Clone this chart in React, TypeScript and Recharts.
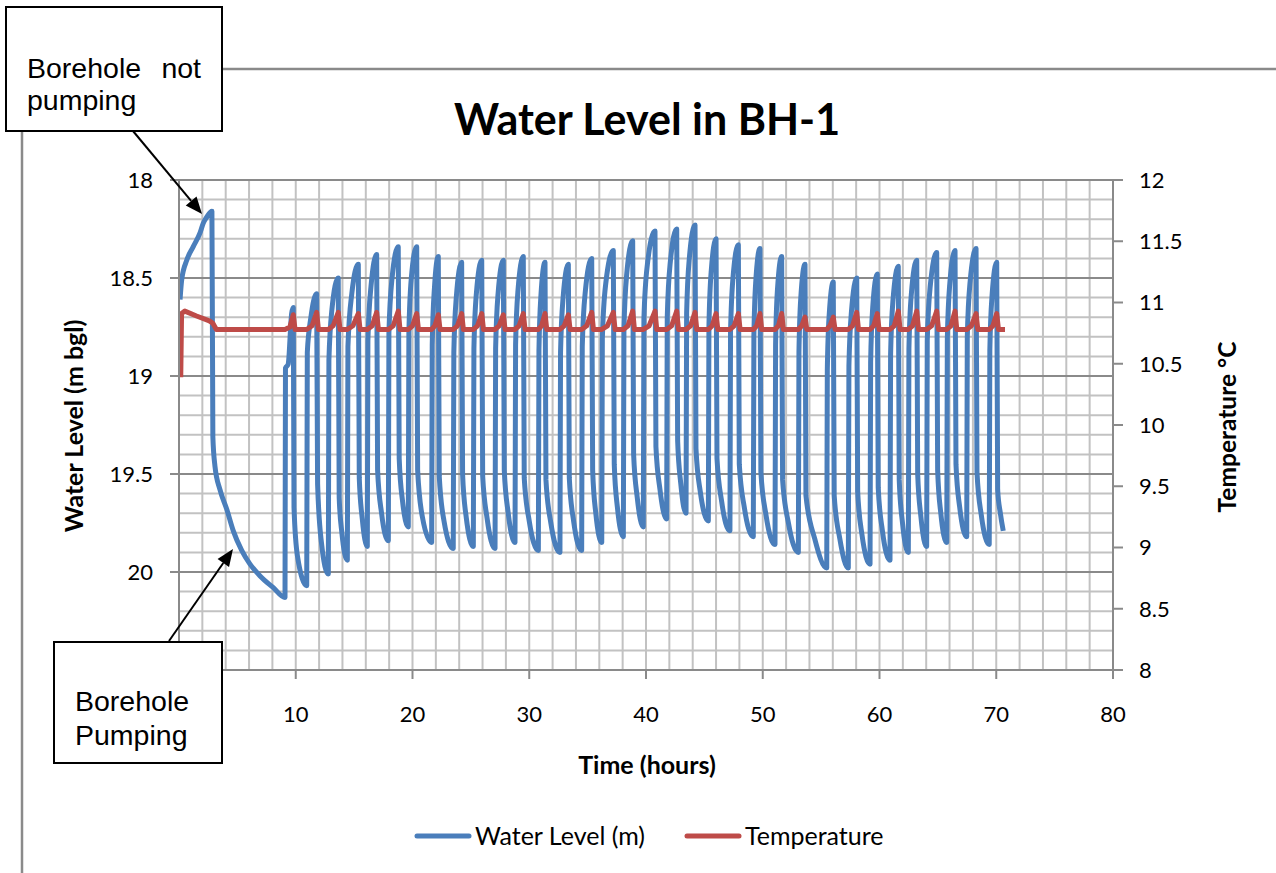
import { LineChart, Line, XAxis, YAxis, CartesianGrid } from 'recharts';

const BLUE = '#4a7ebb';
const RED = '#be4b48';
const MAJOR = '#8a8a8a';
const MINOR = '#c2c2c2';

const timeTicks = [0, 10, 20, 30, 40, 50, 60, 70, 80];
const levelTicks = [18, 18.5, 19, 19.5, 20, 20.5];
const tempTicks = [8, 8.5, 9, 9.5, 10, 10.5, 11, 11.5, 12];
// tick labels hidden behind the "Borehole Pumping" call-out in the original
const coveredTimeLabels = [0];
const coveredLevelLabels = [20.5];
const levelMinorLines = [
  18.1, 18.2, 18.3, 18.4, 18.6, 18.7, 18.8, 18.9, 19.1, 19.2, 19.3, 19.4,
  19.6, 19.7, 19.8, 19.9, 20.1, 20.2, 20.3, 20.4,
];
const timeGridLines = [
  2, 4, 6, 8, 10, 12, 14, 16, 18, 20, 22, 24, 26, 28, 30, 32, 34, 36, 38, 40,
  42, 44, 46, 48, 50, 52, 54, 56, 58, 60, 62, 64, 66, 68, 70, 72, 74, 76, 78, 80,
];

// water level (m bgl) before the pump starts
const restingLevel: [number, number][] = [
  [0.09, 18.61], [0.23, 18.51], [0.66, 18.41], [1.22, 18.34], [1.8, 18.27],
  [2.08, 18.22], [2.37, 18.19], [2.82, 18.16],
];

// first long pumping drawdown
const drawdownLevel: [number, number][] = [
  [2.9, 19.31], [3.08, 19.46], [3.51, 19.58], [4.09, 19.68], [4.65, 19.79],
  [5.37, 19.89], [6.08, 19.96], [6.94, 20.02], [8.08, 20.08], [9.08, 20.13],
];

// on/off pumping cycles
const cyclingLevel: [number, number][] = [
  [9.12, 18.96], [9.35, 18.94], [9.65, 18.68], [9.79, 18.65], [9.85, 19.67], [10.15, 19.92], [10.94, 20.07],
  [10.99, 18.88], [11.3, 18.7], [11.79, 18.58], [11.87, 19.55], [12.2, 19.85], [12.79, 20.01],
  [12.84, 18.92], [13.1, 18.66], [13.64, 18.5], [13.72, 19.62], [13.95, 19.8], [14.42, 19.94],
  [14.47, 18.85], [14.8, 18.58], [15.36, 18.43], [15.44, 19.52], [15.7, 19.73], [16.13, 19.87],
  [16.18, 18.82], [16.45, 18.54], [16.93, 18.38], [17.01, 19.48], [17.35, 19.7], [17.93, 19.84],
  [17.98, 18.78], [18.25, 18.5], [18.78, 18.34], [18.86, 19.42], [19.15, 19.64], [19.64, 19.77],
  [19.69, 18.78], [19.9, 18.5], [20.36, 18.34], [20.44, 19.48], [20.85, 19.72], [21.64, 19.85],
  [21.69, 18.84], [21.88, 18.55], [22.21, 18.39], [22.29, 19.51], [22.7, 19.74], [23.49, 19.88],
  [23.54, 18.88], [23.75, 18.6], [24.21, 18.42], [24.29, 19.5], [24.6, 19.72], [25.21, 19.87],
  [25.26, 18.86], [25.47, 18.58], [25.93, 18.41], [26.01, 19.51], [26.4, 19.73], [27.07, 19.88],
  [27.12, 18.86], [27.33, 18.58], [27.78, 18.41], [27.86, 19.48], [28.2, 19.7], [28.78, 19.85],
  [28.83, 18.84], [29.04, 18.56], [29.49, 18.39], [29.57, 19.52], [30.0, 19.74], [30.78, 19.89],
  [30.83, 18.87], [31.0, 18.59], [31.35, 18.42], [31.43, 19.53], [31.85, 19.75], [32.63, 19.9],
  [32.68, 18.88], [32.9, 18.6], [33.35, 18.43], [33.43, 19.52], [33.8, 19.74], [34.49, 19.89],
  [34.54, 18.85], [34.8, 18.57], [35.35, 18.4], [35.43, 19.48], [35.7, 19.7], [36.21, 19.85],
  [36.26, 18.81], [36.55, 18.53], [37.2, 18.36], [37.28, 19.45], [37.55, 19.67], [38.06, 19.82],
  [38.11, 18.76], [38.35, 18.48], [38.86, 18.31], [38.94, 19.4], [39.25, 19.62], [39.77, 19.77],
  [39.82, 18.71], [40.12, 18.43], [40.77, 18.26], [40.85, 19.36], [41.2, 19.58], [41.77, 19.73],
  [41.82, 18.7], [42.08, 18.42], [42.63, 18.25], [42.71, 19.33], [42.98, 19.55], [43.43, 19.7],
  [43.48, 18.68], [43.71, 18.4], [44.2, 18.23], [44.28, 19.37], [44.65, 19.59], [45.34, 19.74],
  [45.39, 18.75], [45.58, 18.47], [46.0, 18.3], [46.08, 19.42], [46.48, 19.64], [47.19, 19.79],
  [47.24, 18.78], [47.45, 18.5], [47.91, 18.33], [47.99, 19.45], [48.42, 19.67], [49.19, 19.82],
  [49.24, 18.8], [49.4, 18.52], [49.76, 18.35], [49.84, 19.49], [50.28, 19.71], [51.05, 19.86],
  [51.1, 18.84], [51.26, 18.56], [51.62, 18.39], [51.7, 19.53], [52.2, 19.75], [53.05, 19.9],
  [53.1, 18.88], [53.26, 18.6], [53.62, 18.43], [53.7, 19.61], [54.45, 19.83], [55.48, 19.98],
  [55.53, 18.97], [55.69, 18.69], [56.04, 18.52], [56.12, 19.61], [56.6, 19.83], [57.33, 19.98],
  [57.38, 18.95], [57.6, 18.67], [58.05, 18.5], [58.13, 19.59], [58.5, 19.81], [59.19, 19.96],
  [59.24, 18.93], [59.42, 18.65], [59.81, 18.48], [59.89, 19.57], [60.25, 19.79], [60.9, 19.94],
  [60.95, 18.89], [61.16, 18.61], [61.61, 18.44], [61.69, 19.53], [61.97, 19.75], [62.47, 19.9],
  [62.52, 18.86], [62.73, 18.58], [63.19, 18.41], [63.27, 19.5], [63.55, 19.72], [64.04, 19.87],
  [64.09, 18.82], [64.35, 18.54], [64.9, 18.37], [64.98, 19.48], [65.25, 19.7], [65.76, 19.85],
  [65.81, 18.81], [66.02, 18.53], [66.47, 18.36], [66.55, 19.45], [66.87, 19.67], [67.47, 19.82],
  [67.52, 18.8], [67.76, 18.52], [68.27, 18.35], [68.35, 19.49], [68.72, 19.71], [69.4, 19.86],
  [69.45, 18.87], [69.64, 18.59], [70.04, 18.42], [70.12, 19.58], [70.35, 19.7], [70.6, 19.79],
];

// temperature (°C)
const startTemp: [number, number][] = [
  [0.15, 10.39], [0.22, 10.91], [0.5, 10.93], [1.5, 10.89], [2.6, 10.85], [2.9, 10.83], [3.2, 10.78],
];

const cyclingTemp: [number, number][] = [
  [9.08, 10.78], [9.5, 10.8], [9.79, 10.9], [9.94, 10.78],
  [10.94, 10.78], [11.4, 10.81], [11.79, 10.92], [11.94, 10.78],
  [12.79, 10.78], [13.2, 10.81], [13.64, 10.92], [13.79, 10.78],
  [14.42, 10.78], [14.9, 10.81], [15.36, 10.91], [15.51, 10.78],
  [16.13, 10.78], [16.55, 10.81], [16.93, 10.92], [17.08, 10.78],
  [17.93, 10.78], [18.35, 10.81], [18.78, 10.93], [18.93, 10.78],
  [19.64, 10.78], [20.0, 10.81], [20.36, 10.91], [20.51, 10.78],
  [21.64, 10.78], [21.92, 10.81], [22.21, 10.9], [22.36, 10.78],
  [23.49, 10.78], [23.85, 10.81], [24.21, 10.91], [24.36, 10.78],
  [25.21, 10.78], [25.57, 10.81], [25.93, 10.91], [26.08, 10.78],
  [27.07, 10.78], [27.42, 10.81], [27.78, 10.9], [27.93, 10.78],
  [28.78, 10.78], [29.13, 10.81], [29.49, 10.91], [29.64, 10.78],
  [30.78, 10.78], [31.06, 10.81], [31.35, 10.91], [31.5, 10.78],
  [32.63, 10.78], [32.99, 10.81], [33.35, 10.9], [33.5, 10.78],
  [34.49, 10.78], [34.92, 10.81], [35.35, 10.92], [35.5, 10.78],
  [36.21, 10.78], [36.7, 10.81], [37.2, 10.92], [37.35, 10.78],
  [38.06, 10.78], [38.46, 10.81], [38.86, 10.93], [39.01, 10.78],
  [39.77, 10.78], [40.27, 10.81], [40.77, 10.93], [40.92, 10.78],
  [41.77, 10.78], [42.2, 10.81], [42.63, 10.93], [42.78, 10.78],
  [43.43, 10.78], [43.82, 10.81], [44.2, 10.92], [44.35, 10.78],
  [45.34, 10.78], [45.67, 10.81], [46.0, 10.91], [46.15, 10.78],
  [47.19, 10.78], [47.55, 10.81], [47.91, 10.91], [48.06, 10.78],
  [49.19, 10.78], [49.48, 10.81], [49.76, 10.91], [49.91, 10.78],
  [51.05, 10.78], [51.34, 10.81], [51.62, 10.91], [51.77, 10.78],
  [53.05, 10.78], [53.34, 10.81], [53.62, 10.88], [53.77, 10.78],
  [55.48, 10.78], [55.76, 10.81], [56.04, 10.88], [56.19, 10.78],
  [57.33, 10.78], [57.69, 10.81], [58.05, 10.92], [58.2, 10.78],
  [59.19, 10.78], [59.5, 10.81], [59.81, 10.91], [59.96, 10.78],
  [60.9, 10.78], [61.26, 10.81], [61.61, 10.93], [61.76, 10.78],
  [62.47, 10.78], [62.83, 10.81], [63.19, 10.93], [63.34, 10.78],
  [64.04, 10.78], [64.47, 10.81], [64.9, 10.93], [65.05, 10.78],
  [65.76, 10.78], [66.12, 10.81], [66.47, 10.93], [66.62, 10.78],
  [67.47, 10.78], [67.87, 10.81], [68.27, 10.91], [68.42, 10.78],
  [69.4, 10.78], [69.72, 10.81], [70.04, 10.91], [70.19, 10.78],
  [70.75, 10.78],
];

const toRows = (pts: [number, number][]) => pts.map(([t, v]) => ({ t, v }));
const levelData = toRows([...restingLevel, ...drawdownLevel, ...cyclingLevel]);
const tempData = toRows([...startTemp, ...cyclingTemp]);

const tickStyle = { fontFamily: 'Lato', fontSize: 22, fill: '#000' };
const labelFont = 'Lato, sans-serif';
const boxFont = '"Liberation Sans", Arial, sans-serif';

function Arrow({ x1, y1, x2, y2 }: { x1: number; y1: number; x2: number; y2: number }) {
  const a = Math.atan2(y2 - y1, x2 - x1);
  const len = 17;
  const w = 7;
  const bx = x2 - len * Math.cos(a);
  const by = y2 - len * Math.sin(a);
  const px = -Math.sin(a) * w;
  const py = Math.cos(a) * w;
  return (
    <g>
      <line x1={x1} y1={y1} x2={bx} y2={by} stroke="#000" strokeWidth={2} />
      <polygon points={`${x2},${y2} ${bx + px},${by + py} ${bx - px},${by - py}`} fill="#000" />
    </g>
  );
}

export default function App() {
  return (
    <div style={{ position: 'fixed', left: 0, top: 0, width: 1276, height: 873, overflow: 'hidden', background: '#fff' }}>
      <div style={{ position: 'absolute', left: 0, top: 0 }}>
        <LineChart width={1276} height={873} margin={{ top: 180, right: 103, bottom: 173, left: 119 }}>
          <CartesianGrid
            yAxisId="level"
            stroke={MINOR}
            strokeWidth={2}
            horizontalValues={levelMinorLines}
            verticalValues={timeGridLines}
          />
          <CartesianGrid yAxisId="level" stroke={MAJOR} strokeWidth={2} vertical={false} horizontalValues={levelTicks} />
          <XAxis
            type="number"
            dataKey="t"
            domain={[0, 80]}
            ticks={timeTicks}
            tickFormatter={(v: number) => (coveredTimeLabels.includes(v) ? '' : String(v))}
            interval={0}
            allowDataOverflow
            height={30}
            tickSize={9}
            tickMargin={27}
            stroke={MAJOR}
            strokeWidth={2}
            tick={tickStyle}
          />
          <YAxis
            yAxisId="level"
            type="number"
            reversed
            domain={[18, 20.5]}
            ticks={levelTicks}
            tickFormatter={(v: number) => (coveredLevelLabels.includes(v) ? '' : String(v))}
            interval={0}
            allowDataOverflow
            width={60}
            tickSize={9}
            tickMargin={17}
            stroke={MAJOR}
            strokeWidth={2}
            tick={tickStyle}
          />
          <YAxis
            yAxisId="temp"
            orientation="right"
            type="number"
            domain={[8, 12]}
            ticks={tempTicks}
            interval={0}
            allowDataOverflow
            width={60}
            tickSize={10}
            tickMargin={16}
            stroke={MAJOR}
            strokeWidth={2}
            tick={tickStyle}
          />
          <Line
            data={levelData}
            yAxisId="level"
            dataKey="v"
            type="monotone"
            stroke={BLUE}
            strokeWidth={5}
            strokeLinejoin="round"
            dot={false}
            isAnimationActive={false}
          />
          <Line
            data={tempData}
            yAxisId="temp"
            dataKey="v"
            type="linear"
            stroke={RED}
            strokeWidth={5}
            strokeLinejoin="round"
            dot={false}
            isAnimationActive={false}
          />
        </LineChart>
      </div>
      <svg width={1276} height={873} style={{ position: 'absolute', left: 0, top: 0, pointerEvents: 'none' }}>
        <line x1={22} y1={130} x2={22} y2={873} stroke={MAJOR} strokeWidth={2.5} />
        <line x1={222} y1={69} x2={1276} y2={69} stroke={MAJOR} strokeWidth={2.5} />

        <text x={647} y={135} textAnchor="middle" fontFamily={labelFont} fontWeight="bold" fontSize={43} fill="#000">
          Water Level in BH-1
        </text>
        <text x={647} y={774} textAnchor="middle" fontFamily={labelFont} fontWeight="bold" fontSize={25} fill="#000">
          Time (hours)
        </text>
        <text
          x={73}
          y={426}
          textAnchor="middle"
          dominantBaseline="central"
          transform="rotate(-90 73 426)"
          fontFamily={labelFont}
          fontWeight="bold"
          fontSize={25}
          fill="#000"
        >
          Water Level (m bgl)
        </text>
        <text
          x={1226}
          y={427}
          textAnchor="middle"
          dominantBaseline="central"
          transform="rotate(-90 1226 427)"
          fontFamily={labelFont}
          fontWeight="bold"
          fontSize={24.5}
          fill="#000"
        >
          Temperature °C
        </text>

        <line x1={417} y1={836} x2={469} y2={836} stroke={BLUE} strokeWidth={5} strokeLinecap="round" />
        <text x={475} y={845} fontFamily={labelFont} fontSize={25} fill="#000">
          Water Level (m)
        </text>
        <line x1={687} y1={836} x2={739} y2={836} stroke={RED} strokeWidth={5} strokeLinecap="round" />
        <text x={745} y={845} fontFamily={labelFont} fontSize={25} fill="#000">
          Temperature
        </text>

        <Arrow x1={133} y1={131} x2={202} y2={214} />
        <Arrow x1={169} y1={641} x2={233} y2={549} />

        <rect x={6} y={7} width={216} height={124} fill="#fff" stroke="#000" strokeWidth={2} />
        <text x={27} y={78} fontFamily={boxFont} fontSize={28.5} fill="#000">Borehole</text>
        <text x={201} y={78} textAnchor="end" fontFamily={boxFont} fontSize={28.5} fill="#000">not</text>
        <text x={27} y={110} fontFamily={boxFont} fontSize={28.5} fill="#000">pumping</text>

        <rect x={54} y={642} width={168} height={121} fill="#fff" stroke="#000" strokeWidth={2} />
        <text x={75} y={711} fontFamily={boxFont} fontSize={28.5} fill="#000">Borehole</text>
        <text x={75} y={745} fontFamily={boxFont} fontSize={28.5} fill="#000">Pumping</text>
      </svg>
    </div>
  );
}
